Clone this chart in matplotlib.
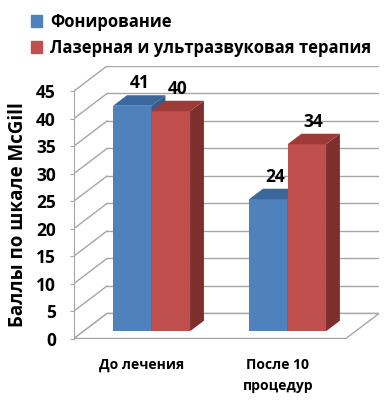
import matplotlib.pyplot as plt
from matplotlib.patches import Polygon, Patch

categories = ['До лечения', 'После 10\nпроцедур']
series = ['Фонирование', 'Лазерная и ультразвуковая терапия']
values = [[41, 24], [40, 34]]
front_colors = ['#4F81BD', '#C0504D']
top_colors = ['#3B679C', '#9E3B39']
side_colors = ['#385D8A', '#7E2F2D']
yticks = list(range(0, 50, 5))

plt.rcParams['font.family'] = ['Open Sans', 'DejaVu Sans']
plt.rcParams['font.weight'] = 'bold'

# oblique "3d" offset of the back wall, in data units
DX, DY = 0.243, 4.55
Z0, Z1 = 0.29, 0.71
w = 0.283
grid_c = '#A6A6A6'


def proj(x, y, z):
    return (x + z * DX, y + z * DY)


fig = plt.figure(figsize=(3.92, 4.0), dpi=100)
ax = fig.add_axes([74 / 392, 61.5 / 400, 305 / 392, 272.5 / 400])
ax.set_xlim(0, 2 + DX)
ax.set_ylim(0, 45 + DY)

# back wall gridlines and left wall diagonals
for v in yticks:
    ax.plot(*zip(proj(0, v, 1), proj(2, v, 1)), color=grid_c, lw=1, zorder=1)
    ax.plot(*zip(proj(0, v, 0), proj(0, v, 1)), color=grid_c, lw=1, zorder=1)

# floor
floor = [proj(0, 0, 0), proj(2, 0, 0), proj(2, 0, 1), proj(0, 0, 1)]
ax.add_patch(Polygon(floor, closed=True, facecolor='white', edgecolor=grid_c, lw=1, zorder=1))

# bars
for j in range(len(categories)):
    for i, s in enumerate(series):
        v = values[i][j]
        x0 = j + 0.5 - w + i * w
        fx, fy = proj(x0, 0, Z0)
        ax.bar(fx, v, width=w, bottom=fy, align='edge', color=front_colors[i], zorder=3 + j * 3 + i)
        top = [proj(x0, v, Z0), proj(x0 + w, v, Z0), proj(x0 + w, v, Z1), proj(x0, v, Z1)]
        side = [proj(x0 + w, 0, Z0), proj(x0 + w, v, Z0), proj(x0 + w, v, Z1), proj(x0 + w, 0, Z1)]
        ax.add_patch(Polygon(top, closed=True, color=top_colors[i], lw=0, zorder=3 + j * 3 + i))
        ax.add_patch(Polygon(side, closed=True, color=side_colors[i], lw=0, zorder=3 + j * 3 + i))
        lx, ly = proj(x0 + w / 2, v, 0.5)
        ax.annotate(str(v), (lx, ly), xytext=(0, 6), textcoords='offset points',
                    ha='center', va='bottom', fontsize=12.5, fontweight='bold', zorder=20)

for sp in ['top', 'right']:
    ax.spines[sp].set_visible(False)
ax.spines['left'].set_bounds(0, 45)
ax.spines['bottom'].set_visible(False)
ax.spines['left'].set_color(grid_c)
ax.set_yticks(yticks)
ax.tick_params(axis='y', length=3, color=grid_c, labelsize=12.5, pad=10)
ax.set_xticks([0.5, 1.5])
ax.set_xticklabels(categories, fontsize=10, fontweight='bold', linespacing=1.6)
ax.tick_params(axis='x', length=0, pad=14)
for t in ax.get_yticklabels():
    t.set_fontweight('bold')
ax.set_ylabel('Баллы по шкале McGill', fontsize=13.5, fontweight='bold')
ax.yaxis.set_label_coords(-0.15, 22.5 / (45 + DY))
ax.patch.set_alpha(0)

handles = [Patch(color=c) for c in front_colors]
fig.legend(handles, series, loc='upper left', bbox_to_anchor=(0.04, 1.006), frameon=False,
           handlelength=0.7, handleheight=0.7, handletextpad=0.45, labelspacing=0.5,
           prop={'size': 12, 'weight': 'bold'})

fig.savefig('out.png', dpi=100)
